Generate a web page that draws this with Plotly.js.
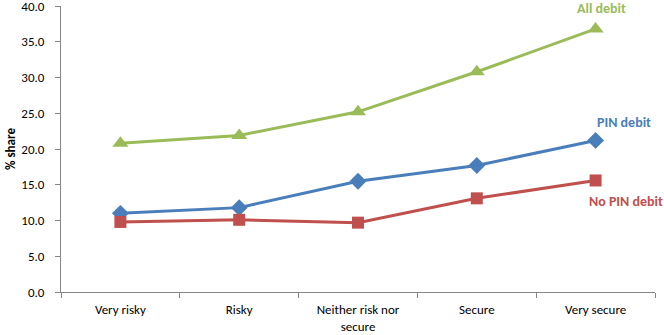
<!DOCTYPE html>
<html><head><meta charset="utf-8">
<script src="https://cdn.plot.ly/plotly-3.0.1.min.js"></script>
<style>html,body{margin:0;padding:0;background:#fff}#c{width:664px;height:335px}</style>
</head><body><div id="c"></div>
<script>
const categories = ["Very risky", "Risky", "Neither risk nor<br>secure", "Secure", "Very secure"];
const allDebit = [20.8, 21.9, 25.2, 30.8, 36.8];
const pinDebit = [11.0, 11.8, 15.5, 17.7, 21.2];
const noPinDebit = [9.8, 10.1, 9.7, 13.1, 15.6];
const seriesNames = ["All debit", "PIN debit", "No PIN debit"];
const yTicks = [0, 5, 10, 15, 20, 25, 30, 35, 40];

const font = "Carlito, Lato, Liberation Sans, Arial, sans-serif";
const fs = 13;
const mk = (y, name, color, symbol, size) => ({
  x: categories, y: y, name: name, type: "scatter", mode: "lines+markers",
  line: {color: color, width: 3},
  marker: {symbol: symbol, size: size, color: color, line: {width: 0}},
  cliponaxis: false
});
const data = [
  mk(allDebit, seriesNames[0], "#9BBB59", "triangle-up", 14),
  mk(pinDebit, seriesNames[1], "#4A7EBB", "diamond", 13),
  mk(noPinDebit, seriesNames[2], "#C0504D", "square", 12)
];
const layout = {
  width: 664, height: 335,
  margin: {l: 61, r: 9, t: 6, b: 43},
  showlegend: false,
  paper_bgcolor: "#fff", plot_bgcolor: "#fff",
  font: {family: font, size: fs, color: "#000"},
  xaxis: {
    type: "category", range: [-0.5, 4.5], tickson: "boundaries",
    ticks: "outside", ticklen: 5, tickcolor: "#868686",
    showline: true, linecolor: "#868686", linewidth: 1, showgrid: false,
    tickfont: {family: font, size: fs}, zeroline: false, ticklabelstandoff: 5
  },
  yaxis: {
    range: [0, 40], tickvals: yTicks, tickformat: ".1f", ticklabeloverflow: "allow",
    ticks: "outside", ticklen: 5, tickcolor: "#868686",
    showline: true, linecolor: "#868686", linewidth: 1, showgrid: false, zeroline: false,
    tickfont: {family: font, size: fs}, ticklabelstandoff: 8,
    title: {text: "<b>% share</b>", font: {family: font, size: fs}, standoff: 2}
  },
  annotations: [
    {x: 4, y: allDebit[4], xref: "x", yref: "y", text: "<b>All debit</b>", showarrow: false, yshift: 20, xshift: 6, font: {family: font, size: 14, color: "#9BBB59"}},
    {x: 4, y: pinDebit[4], xref: "x", yref: "y", text: "<b>PIN debit</b>", showarrow: false, yshift: 18, xshift: 28, font: {family: font, size: 14, color: "#4A7EBB"}},
    {x: 4, y: noPinDebit[4], xref: "x", yref: "y", text: "<b>No PIN debit</b>", showarrow: false, yshift: -21, xshift: 30, font: {family: font, size: 14, color: "#C0504D"}}
  ]
};
Plotly.newPlot("c", data, layout, {displayModeBar: false, staticPlot: true});
</script></body></html>
